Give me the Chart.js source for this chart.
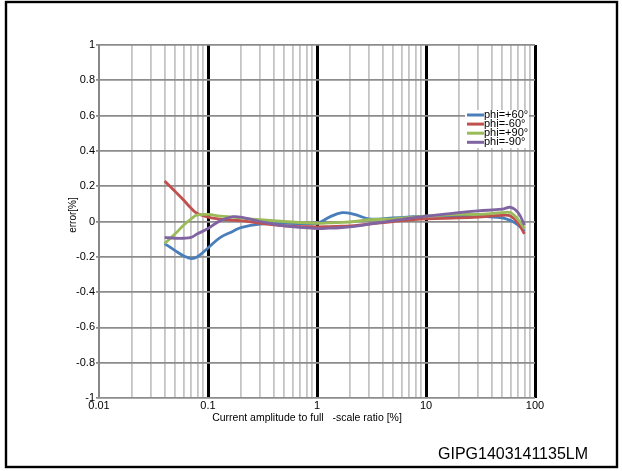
<!DOCTYPE html>
<html>
<head>
<meta charset="utf-8">
<script src="https://cdn.jsdelivr.net/npm/chart.js@4"></script>
<style>
body{margin:0;background:#fff}
#canvas{position:absolute;left:0;top:0}
</style>
</head>
<body>
<canvas id="canvas" width="622" height="471"></canvas>
<script>
// ratio in %, same x for all curves
var ratio = [0.04,0.05,0.06,0.07,0.08,0.1,0.13,0.17,0.2,0.3,0.5,1,1.3,1.7,2.2,3,5,10,20,30,50,60,70,80]
var phiP60 = [-0.125,-0.165,-0.195,-0.21,-0.2,-0.15,-0.09,-0.055,-0.035,-0.015,-0.01,-0.01,0.025,0.05,0.04,0.015,0.02,0.03,0.03,0.03,0.02,0.005,-0.02,-0.055]
var phiM60 = [0.23,0.17,0.12,0.075,0.045,0.025,0.014,0.008,0.005,-0.01,-0.025,-0.03,-0.029,-0.027,-0.024,-0.015,0,0.015,0.02,0.025,0.035,0.03,-0.01,-0.07]
var phiP90 = [-0.125,-0.07,-0.02,0.015,0.037,0.04,0.03,0.025,0.02,0.01,0,-0.01,-0.008,-0.005,0,0.01,0.015,0.03,0.04,0.04,0.05,0.05,0.01,-0.04]
var phiM90 = [-0.09,-0.095,-0.095,-0.09,-0.07,-0.04,0.005,0.027,0.025,0,-0.025,-0.04,-0.038,-0.034,-0.028,-0.015,0.005,0.03,0.05,0.06,0.07,0.08,0.05,-0.02]

var seriesNames = ["phi=+60°","phi=-60°","phi=+90°","phi=-90°"]
var seriesColors = ["#4a7ebb","#c0504d","#9bbb59","#8064a2"]
var xTickValues = [0.01,0.1,1,10,100]
var xTitle = "Current amplitude to full   -scale ratio [%]"
var yTitle = "error[%]"
var footer = "GIPG1403141135LM"

var FONT = "'Liberation Sans', Arial, sans-serif"

function pts(ys){
    return ratio.map(function(x,i){ return {x:x, y:ys[i]} })
}

function isDecade(v){
    return xTickValues.some(function(d){ return Math.abs(d-v) < d*1e-6 })
}

// extra drawing: frame, titles, legend, footer
var decor = {
    id:"decor",
    afterDraw:function(chart){
        var c = chart.ctx
        c.save()
        c.strokeStyle = "#000"
        c.lineWidth = 2.4
        c.strokeRect(6,2,611,465)

        c.fillStyle = "#000"
        c.font = "10.5px " + FONT
        c.textAlign = "center"
        c.textBaseline = "middle"
        c.fillText(xTitle, 307, 418)

        c.save()
        c.translate(73, 215)
        c.rotate(-Math.PI/2)
        c.font = "10px " + FONT
        c.fillText(yTitle, 0, 0)
        c.restore()

        c.font = "16px " + FONT
        c.textAlign = "left"
        c.fillText(footer, 438, 455)

        // legend
        c.fillStyle = "#fff"
        c.fillRect(465,110,64,38)
        c.font = "11px " + FONT
        for (var i = 0; i < seriesNames.length; i++){
            var y = 115 + i*9.1
            c.strokeStyle = seriesColors[i]
            c.lineWidth = 3
            c.beginPath()
            c.moveTo(467,y)
            c.lineTo(484,y)
            c.stroke()
            c.fillStyle = "#000"
            c.fillText(seriesNames[i], 484, y)
        }
        c.restore()
    }
}

var datasets = [phiP60, phiM60, phiP90, phiM90].map(function(d,i){
    return {
        label: seriesNames[i],
        data: pts(d),
        borderColor: seriesColors[i],
        backgroundColor: seriesColors[i],
        borderWidth: 2.8,
        pointRadius: 0,
        fill: false,
        tension: 0.4,
        order: 4-i
    }
})

var chart = new Chart(document.getElementById("canvas"), {
    type: "line",
    data: { datasets: datasets },
    options: {
        responsive: false,
        animation: false,
        layout: { padding: { left:0, top:45, right:87, bottom:0 } },
        plugins: {
            legend: { display:false },
            tooltip: { enabled:false }
        },
        scales: {
            x: {
                type: "logarithmic",
                min: 0.01,
                max: 100,
                afterBuildTicks: function(s){
                    var t = []
                    for (var e = -2; e <= 1; e++){
                        for (var k = 1; k <= 9; k++){
                            t.push({ value: Number((k*Math.pow(10,e)).toPrecision(3)) })
                        }
                    }
                    t.push({ value: 100 })
                    s.ticks = t
                },
                afterFit: function(s){ s.height = 73 },
                ticks: {
                    autoSkip: false,
                    maxRotation: 0,
                    padding: 1,
                    color: "#000",
                    font: { family: FONT, size: 11 },
                    callback: function(v){ return isDecade(v) ? String(v) : "" }
                },
                grid: {
                    drawTicks: false,
                    color: function(ctx){
                        var v = ctx.tick ? ctx.tick.value : 0
                        if (Math.abs(v-0.01) < 1e-9) return "#888"
                        return isDecade(v) ? "#000" : "#c4c4c4"
                    },
                    lineWidth: function(ctx){
                        var v = ctx.tick ? ctx.tick.value : 0
                        if (Math.abs(v-0.01) < 1e-9) return 2
                        return isDecade(v) ? 3 : 1.8
                    }
                },
                border: { display:false }
            },
            y: {
                min: -1,
                max: 1,
                afterFit: function(s){ s.width = 99 },
                ticks: {
                    stepSize: 0.2,
                    padding: 1,
                    color: "#000",
                    font: { family: FONT, size: 11 },
                    callback: function(v){ return String(Number(v.toFixed(1))) }
                },
                grid: {
                    color: "#8c8c8c",
                    lineWidth: 1.8,
                    tickLength: 3
                },
                border: { color:"#888", width:2 }
            }
        }
    },
    plugins: [decor]
})
</script>
</body>
</html>
